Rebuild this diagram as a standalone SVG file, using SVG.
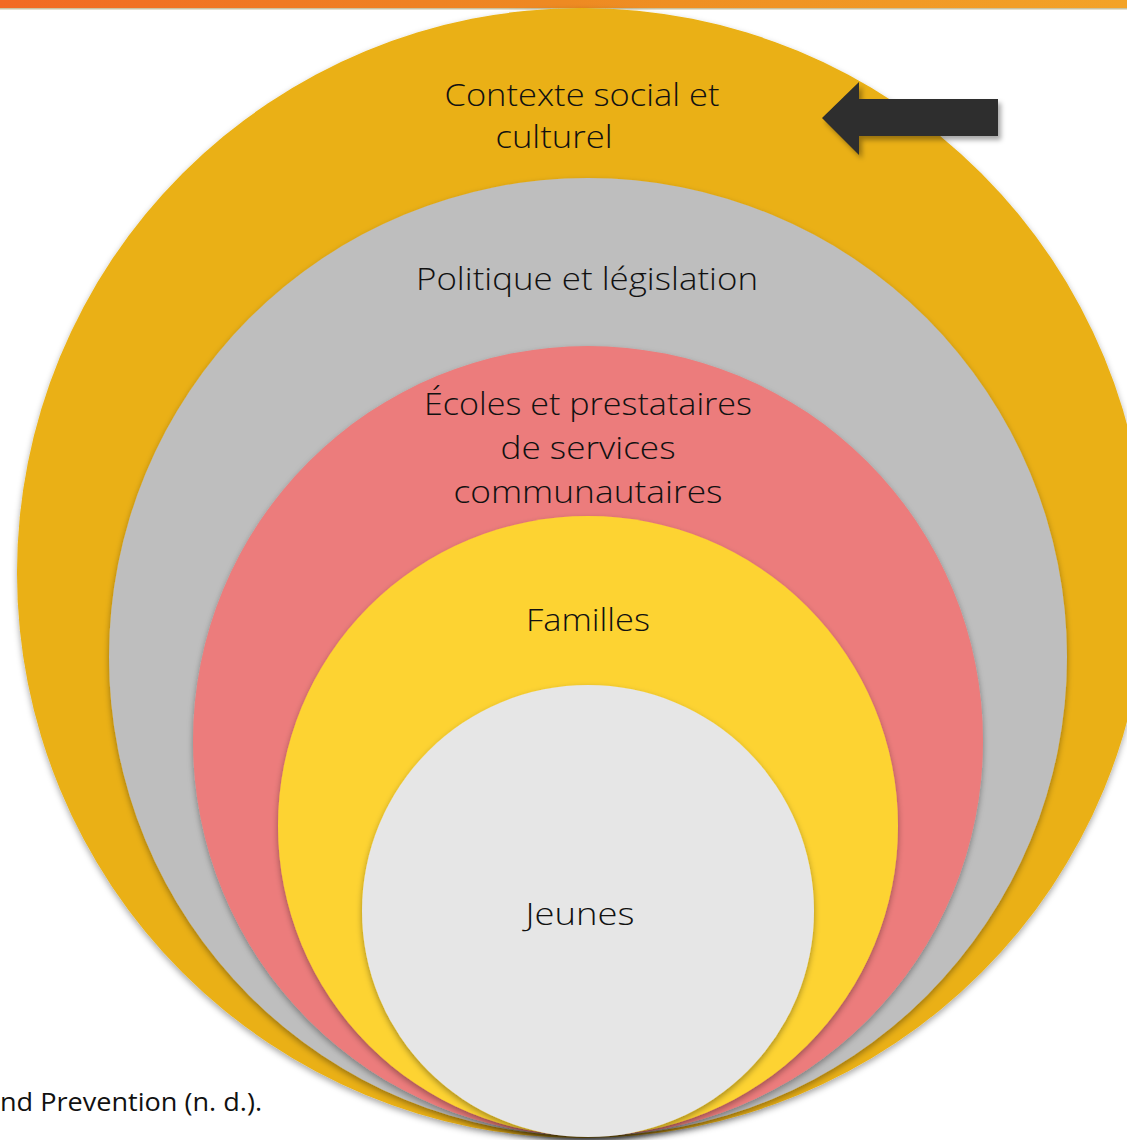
<svg xmlns="http://www.w3.org/2000/svg" width="1127" height="1140" viewBox="0 0 1127 1140">
<defs>
<linearGradient id="bar" x1="0" y1="0" x2="1" y2="0">
<stop offset="0" stop-color="#F26A22"/>
<stop offset="0.5" stop-color="#EE8A22"/>
<stop offset="1" stop-color="#F3A327"/>
</linearGradient>
<filter id="sh" x="-10%" y="-10%" width="120%" height="120%">
<feDropShadow dx="0" dy="3" stdDeviation="3" flood-color="#000" flood-opacity="0.35"/>
</filter>
<filter id="ash" x="-10%" y="-20%" width="130%" height="150%">
<feDropShadow dx="3" dy="4" stdDeviation="2.5" flood-color="#000" flood-opacity="0.35"/>
</filter>
</defs>
<style>
.t{font-family:"Open Sans","Lato","DejaVu Sans",sans-serif;font-weight:300;font-size:31px;fill:#111;text-anchor:middle}
.s{font-family:"Open Sans","Liberation Sans",sans-serif;font-size:25px;fill:#111}
</style>
<rect width="1127" height="1140" fill="#fff"/>
<rect x="0" y="0" width="1127" height="8" fill="url(#bar)"/>
<rect x="0" y="8" width="1127" height="1.5" fill="#c9c2a0"/>
<text class="s" x="0" y="1111" textLength="262" lengthAdjust="spacingAndGlyphs">nd Prevention (n. d.).</text>
<g id="contexte">
<circle cx="582" cy="573" r="565" fill="#EAB012" filter="url(#sh)"/>
<text class="t" x="582" y="106" textLength="275" lengthAdjust="spacingAndGlyphs">Contexte social et</text>
<text class="t" x="554" y="148" textLength="117" lengthAdjust="spacingAndGlyphs">culturel</text>
</g>
<g id="politique">
<circle cx="588" cy="657" r="479" fill="#BEBEBE" filter="url(#sh)"/>
<text class="t" x="587" y="290" textLength="342" lengthAdjust="spacingAndGlyphs">Politique et législation</text>
</g>
<g id="ecoles">
<circle cx="588" cy="741" r="395" fill="#EC7C7B" filter="url(#sh)"/>
<text class="t" x="588" y="415" textLength="328" lengthAdjust="spacingAndGlyphs">Écoles et prestataires</text>
<text class="t" x="588" y="459" textLength="175" lengthAdjust="spacingAndGlyphs">de services</text>
<text class="t" x="588" y="503" textLength="269" lengthAdjust="spacingAndGlyphs">communautaires</text>
</g>
<g id="familles">
<circle cx="588" cy="826" r="310" fill="#FDD331" filter="url(#sh)"/>
<text class="t" x="588" y="631" textLength="124" lengthAdjust="spacingAndGlyphs">Familles</text>
</g>
<g id="jeunes">
<circle cx="588" cy="911" r="226" fill="#E6E6E6" filter="url(#sh)"/>
<text class="t" x="580" y="925" textLength="109" lengthAdjust="spacingAndGlyphs">Jeunes</text>
</g>
<g id="connectors">
<polygon points="822,118 859,82 859,99 998,99 998,136 859,136 859,155" fill="#2D2D2D" filter="url(#ash)"/>
</g>
</svg>
